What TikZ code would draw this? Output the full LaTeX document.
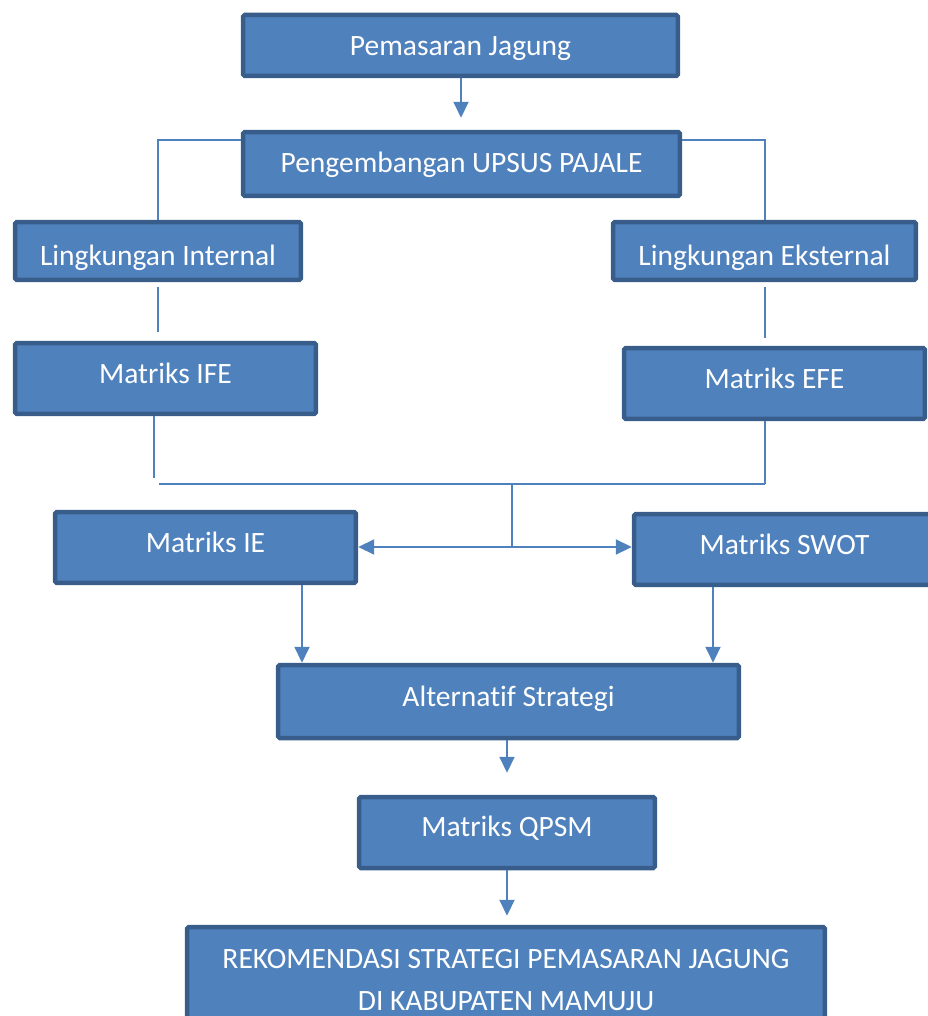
\documentclass[tikz,border=0pt]{standalone}
\usepackage{fontspec}
\setmainfont{Carlito}[Ligatures=NoCommon]
\usetikzlibrary{arrows.meta, positioning, calc}
\definecolor{boxfill}{HTML}{4F81BD}
\definecolor{boxline}{HTML}{385D8A}
\definecolor{linkblue}{HTML}{4F81BD}

\begin{document}
\begin{tikzpicture}[x=0.02cm, y=-0.02cm,
    box/.style={rectangle, draw=boxline, line width=0.09cm, fill=boxfill, rounded corners=1pt, text=white, font=\fontsize{16.8}{24}\selectfont, inner sep=0pt, text height=11.5pt, text depth=0pt},
    upbox/.style={box, text depth=5.6pt},
    downbox/.style={box, text height=16pt},
    link/.style={draw=linkblue, line width=0.04cm},
    arrow/.style={link, -{Triangle[length=0.32cm, width=0.3cm]}}
]
\useasboundingbox (0,0) rectangle (927,1016);

% Top boxes
\node[box, minimum width=8.7cm, minimum height=1.22cm] (pem) at (460.5,45.5) {Pemasaran Jagung};
\node[box, text depth=2pt, minimum width=8.74cm, minimum height=1.28cm] (peng) at (461.5,164) {Pengembangan UPSUS PAJALE};

% Environment
\node[downbox, minimum width=5.72cm, minimum height=1.16cm] (lint) at (158,251) {Lingkungan Internal};
\node[downbox, minimum width=6.06cm, minimum height=1.16cm] (lext) at (764.5,251) {Lingkungan Eksternal};

% Matrices
\node[upbox, minimum width=6.02cm, minimum height=1.42cm] (ife) at (165.5,378.5) {Matriks IFE};
\node[upbox, minimum width=6.02cm, minimum height=1.42cm] (efe) at (774.5,383.5) {Matriks EFE};
\node[upbox, minimum width=6.02cm, minimum height=1.42cm] (ie) at (205.5,547.5) {Matriks IE};
\node[upbox, minimum width=6.02cm, minimum height=1.42cm] (swot) at (784.5,549.5) {Matriks SWOT};

% Strategy
\node[upbox, minimum width=9.22cm, minimum height=1.46cm] (alt) at (508.5,701.5) {Alternatif Strategi};
\node[upbox, text depth=6.5pt, minimum width=5.92cm, minimum height=1.42cm] (qpsm) at (507,832.5) {Matriks QPSM};
\node[box, text height=, text depth=, minimum width=12.76cm, minimum height=2.12cm, align=center] (rek) at (506,980)
    {REKOMENDASI STRATEGI PEMASARAN JAGUNG\\DI KABUPATEN MAMUJU};

% Junction points
\coordinate (jl) at (154,484);
\coordinate (jr) at (765,484);
\coordinate (jm) at (512,484);
\coordinate (split) at (512,547);

% Connectors
\draw[arrow, shorten >=0.24cm] (pem.south -| 461,0) -- (peng.north -| 461,0);
\draw[link] ([yshift=0.48cm]peng.west) -| (lint.north);
\draw[link] ([yshift=0.48cm]peng.east) -| (lext.north);
\draw[link, shorten <=0.1cm, shorten >=0.18cm] (lint.south) -- (lint.south |- ife.north);
\draw[link, shorten <=0.1cm, shorten >=0.16cm] (lext.south) -- (lext.south |- efe.north);

\draw[link, shorten >=0.12cm] (ife.south -| jl) -- (jl);
\draw[link, shorten <=0.1cm] (jl) -- (jr);
\draw[link] (efe.south -| jr) -- (jr);
\draw[link] (jm) -- (split);
\draw[arrow] (split) -- (split -| ie.east);
\draw[arrow] (split) -- (split -| swot.west);

\draw[arrow] ([xshift=1.93cm]ie.south) -- ([xshift=1.93cm]ie.south |- alt.north);
\draw[arrow] ([xshift=-1.43cm]swot.south) -- ([xshift=-1.43cm]swot.south |- alt.north);
\draw[arrow, shorten >=0.44cm] (alt.south -| qpsm.north) -- (qpsm.north);
\draw[arrow, shorten >=0.18cm] (qpsm.south) -- (rek.north -| qpsm.south);

\end{tikzpicture}
\end{document}
